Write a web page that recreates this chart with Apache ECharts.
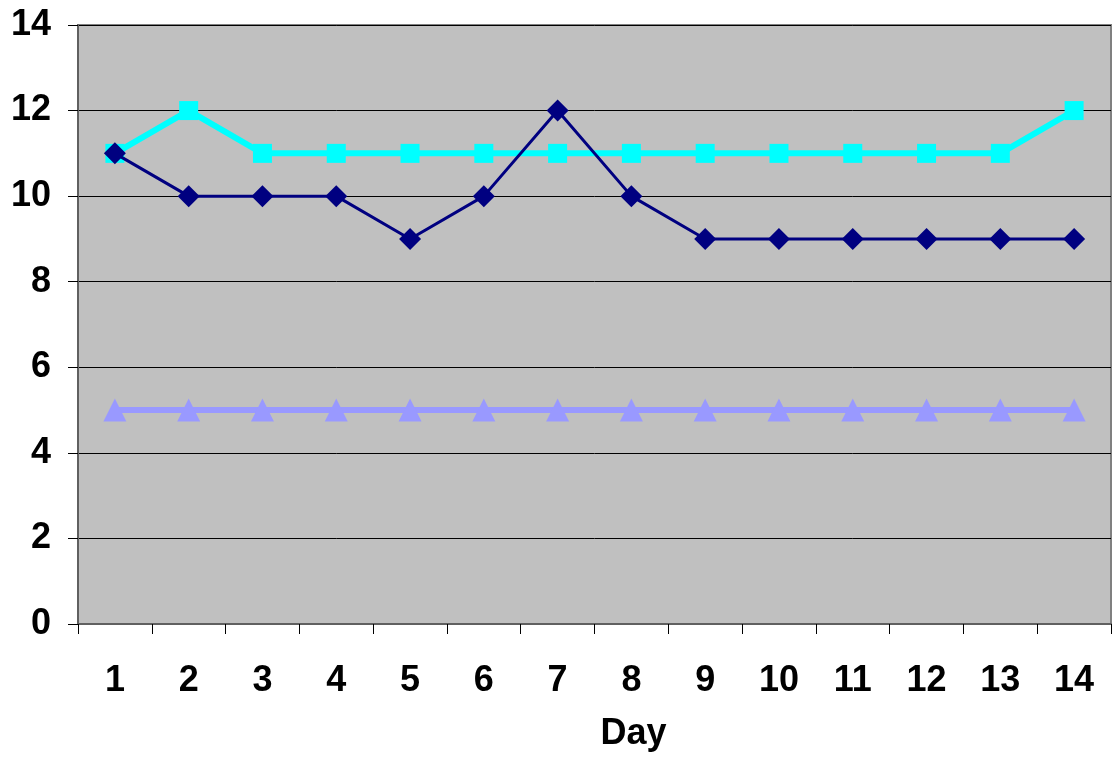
<!DOCTYPE html>
<html>
<head>
<meta charset="utf-8">
<script src="https://cdn.jsdelivr.net/npm/echarts@6/dist/echarts.min.js"></script>
<style>
  html, body { margin: 0; padding: 0; background: #ffffff; }
  #chart { width: 1112px; height: 757px; }
</style>
</head>
<body>
<div id="chart"></div>
<script>
// Day numbers along the x axis
const days = ['1','2','3','4','5','6','7','8','9','10','11','12','13','14'];

// Daily readings for the three series
const seriesNavy = [11, 10, 10, 10, 9, 10, 12, 10, 9, 9, 9, 9, 9, 9];
const seriesCyan = [11, 12, 11, 11, 11, 11, 11, 11, 11, 11, 11, 11, 11, 12];
const seriesLavender = [5, 5, 5, 5, 5, 5, 5, 5, 5, 5, 5, 5, 5, 5];

const labelFont = {
  fontFamily: 'Liberation Sans, Arial, sans-serif',
  fontWeight: 'bold',
  fontSize: 36,
  color: '#000000'
};

const chart = echarts.init(document.getElementById('chart'), null, { renderer: 'canvas' });

chart.setOption({
  animation: false,
  backgroundColor: '#ffffff',
  grid: {
    left: 78, right: 1, top: 25, bottom: 131,
    show: true,
    backgroundColor: '#c0c0c0',
    borderColor: '#808080',
    borderWidth: 2
  },
  xAxis: {
    type: 'category',
    data: days,
    boundaryGap: true,
    name: 'Day',
    nameLocation: 'middle',
    nameGap: 92,
    nameTextStyle: Object.assign({ padding: [0, 0, 0, 78] }, labelFont),
    axisLine: { show: true, lineStyle: { color: '#606060', width: 2 } },
    axisTick: { show: true, alignWithLabel: false, length: 10, lineStyle: { color: '#000000', width: 1 } },
    axisLabel: Object.assign({ margin: 39, interval: 0 }, labelFont),
    splitLine: { show: false }
  },
  yAxis: {
    type: 'value',
    min: 0, max: 14, interval: 2,
    axisLine: { show: true, lineStyle: { color: '#606060', width: 2 } },
    axisTick: { show: true, length: 10, lineStyle: { color: '#000000', width: 1 } },
    axisLabel: Object.assign({ margin: 27 }, labelFont),
    splitLine: { show: true, lineStyle: { color: '#000000', width: 1 } }
  },
  series: [
    {
      name: 'Navy',
      type: 'line',
      data: seriesNavy,
      symbol: 'diamond',
      symbolSize: 22,
      lineStyle: { color: '#000080', width: 3 },
      itemStyle: { color: '#000080' },
      z: 3
    },
    {
      name: 'Cyan',
      type: 'line',
      data: seriesCyan,
      symbol: 'rect',
      symbolSize: 19,
      lineStyle: { color: '#00ffff', width: 6 },
      itemStyle: { color: '#00ffff' },
      z: 2
    },
    {
      name: 'Lavender',
      type: 'line',
      data: seriesLavender,
      symbol: 'triangle',
      symbolSize: 23,
      lineStyle: { color: '#9999ff', width: 6 },
      itemStyle: { color: '#9999ff' },
      z: 2
    }
  ]
});
</script>
</body>
</html>
